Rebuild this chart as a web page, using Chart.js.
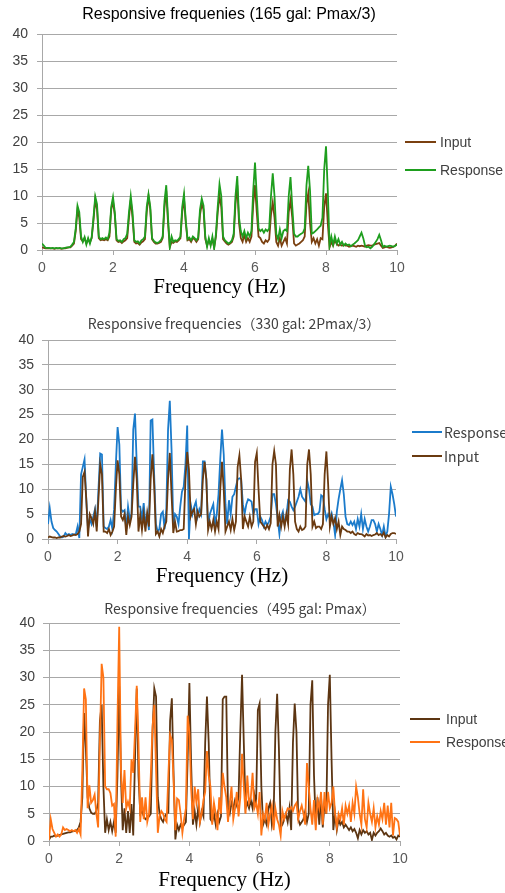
<!DOCTYPE html>
<html>
<head>
<meta charset="utf-8">
<script src="https://cdn.jsdelivr.net/npm/chart.js@4.4.1/dist/chart.umd.min.js"></script>
<style>
  body { margin: 0; background: #fff; }
  canvas { position: absolute; left: 0; }
</style>
</head>
<body>
<canvas id="c1" width="505" height="300" style="top:0px"></canvas>
<canvas id="c2" width="505" height="292" style="top:300px"></canvas>
<canvas id="c3" width="505" height="301" style="top:592px"></canvas>
<script>
// frequency grid (Hz), 0.05 Hz steps
const freqs = [
  0, 0.05, 0.1, 0.15, 0.2, 0.25, 0.3, 0.35, 0.4, 0.45,
  0.5, 0.55, 0.6, 0.65, 0.7, 0.75, 0.8, 0.85, 0.9, 0.95,
  1, 1.05, 1.1, 1.15, 1.2, 1.25, 1.3, 1.35, 1.4, 1.45,
  1.5, 1.55, 1.6, 1.65, 1.7, 1.75, 1.8, 1.85, 1.9, 1.95,
  2, 2.05, 2.1, 2.15, 2.2, 2.25, 2.3, 2.35, 2.4, 2.45,
  2.5, 2.55, 2.6, 2.65, 2.7, 2.75, 2.8, 2.85, 2.9, 2.95,
  3, 3.05, 3.1, 3.15, 3.2, 3.25, 3.3, 3.35, 3.4, 3.45,
  3.5, 3.55, 3.6, 3.65, 3.7, 3.75, 3.8, 3.85, 3.9, 3.95,
  4, 4.05, 4.1, 4.15, 4.2, 4.25, 4.3, 4.35, 4.4, 4.45,
  4.5, 4.55, 4.6, 4.65, 4.7, 4.75, 4.8, 4.85, 4.9, 4.95,
  5, 5.05, 5.1, 5.15, 5.2, 5.25, 5.3, 5.35, 5.4, 5.45,
  5.5, 5.55, 5.6, 5.65, 5.7, 5.75, 5.8, 5.85, 5.9, 5.95,
  6, 6.05, 6.1, 6.15, 6.2, 6.25, 6.3, 6.35, 6.4, 6.45,
  6.5, 6.55, 6.6, 6.65, 6.7, 6.75, 6.8, 6.85, 6.9, 6.95,
  7, 7.05, 7.1, 7.15, 7.2, 7.25, 7.3, 7.35, 7.4, 7.45,
  7.5, 7.55, 7.6, 7.65, 7.7, 7.75, 7.8, 7.85, 7.9, 7.95,
  8, 8.05, 8.1, 8.15, 8.2, 8.25, 8.3, 8.35, 8.4, 8.45,
  8.5, 8.55, 8.6, 8.65, 8.7, 8.75, 8.8, 8.85, 8.9, 8.95,
  9, 9.05, 9.1, 9.15, 9.2, 9.25, 9.3, 9.35, 9.4, 9.45,
  9.5, 9.55, 9.6, 9.65, 9.7, 9.75, 9.8, 9.85, 9.9, 9.95,
  10
];

// 165 gal
const input165 = [
  0.5, 0.4, 0.3, 0.3, 0.3, 0.3, 0.3, 0.2, 0.3, 0.3,
  0.3, 0.2, 0.3, 0.3, 0.4, 0.5, 0.5, 0.8, 1.2, 3.5,
  7.5, 6.0, 2.0, 1.6, 2.2, 1.2, 2.0, 1.4, 2.2, 5.5,
  9.3, 7.5, 2.2, 1.8, 1.9, 1.8, 2.0, 1.8, 2.5, 7.5,
  9.0, 6.5, 1.8, 1.5, 1.6, 1.3, 1.6, 1.8, 2.2, 6.0,
  9.3, 6.0, 1.5, 1.2, 1.3, 1.0, 1.4, 1.6, 2.0, 7.0,
  10.0, 7.5, 2.0, 1.5, 1.2, 1.2, 1.3, 1.5, 2.2, 8.0,
  11.0, 5.0, 0.5, 1.5, 1.3, 1.6, 1.5, 1.8, 2.2, 7.0,
  9.5, 5.0, 1.8, 2.0, 1.5, 2.2, 2.0, 1.5, 2.0, 6.5,
  8.5, 7.5, 2.0, 0.8, 1.8, 1.0, 2.0, 0.5, 2.5, 7.0,
  10.0, 8.0, 2.0, 1.6, 1.2, 1.0, 1.2, 1.5, 2.5, 8.5,
  12.0, 5.0, 2.2, 1.5, 2.8, 1.5, 2.2, 1.5, 2.5, 8.5,
  12.0, 7.0, 2.5, 2.2, 1.5, 1.2, 1.8, 1.5, 2.0, 6.5,
  8.8, 6.0, 1.5, 0.8, 2.2, 0.8, 1.5, 2.2, 1.2, 7.0,
  9.2, 6.0, 1.2, 0.8, 1.0, 1.2, 1.5, 1.8, 2.5, 8.5,
  10.5, 5.0, 1.5, 2.2, 1.2, 2.0, 0.8, 2.2, 2.0, 8.0,
  10.5, 5.0, 0.5, 1.5, 0.8, 1.8, 1.2, 0.8, 1.0, 0.8,
  1.0, 0.8, 0.8, 0.6, 0.7, 0.8, 0.7, 0.6, 0.8, 0.7,
  0.8, 0.7, 0.6, 0.8, 0.9, 0.8, 0.8, 1.0, 1.1, 1.2,
  1.3, 0.8, 0.4, 0.5, 0.6, 0.5, 0.4, 0.5, 0.6, 0.8,
  1.2
];
const response165 = [
  1.2, 0.8, 0.4, 0.4, 0.4, 0.3, 0.4, 0.3, 0.4, 0.3,
  0.4, 0.3, 0.3, 0.4, 0.5, 0.5, 0.6, 1.0, 1.5, 4.0,
  8.2, 7.0, 2.5, 1.5, 2.4, 1.0, 2.2, 1.2, 2.4, 6.0,
  9.9, 8.5, 2.5, 2.0, 2.2, 2.0, 2.3, 2.0, 3.2, 8.0,
  9.8, 7.0, 2.0, 1.7, 1.8, 1.5, 2.0, 2.2, 3.0, 7.0,
  10.0, 7.0, 1.8, 1.5, 1.6, 1.2, 1.8, 2.0, 2.5, 8.0,
  10.3, 8.0, 2.2, 1.7, 1.4, 1.3, 1.5, 1.8, 2.5, 9.0,
  12.0, 6.0, 0.5, 2.5, 1.5, 1.8, 1.7, 2.0, 2.5, 8.0,
  10.4, 5.5, 2.0, 2.3, 1.8, 2.5, 2.2, 1.8, 2.3, 7.5,
  9.5, 8.2, 2.5, 0.6, 2.2, 0.8, 2.5, 0.3, 3.0, 8.0,
  12.2, 10.0, 2.5, 1.8, 1.5, 1.2, 1.4, 1.8, 3.0, 10.0,
  13.7, 6.0, 3.5, 2.5, 3.5, 2.2, 3.2, 2.5, 3.5, 11.0,
  16.2, 10.0, 4.0, 3.5, 3.8, 3.2, 3.8, 3.5, 4.0, 10.0,
  14.2, 10.0, 3.0, 2.0, 3.8, 2.2, 3.5, 3.8, 3.5, 10.0,
  13.5, 8.0, 3.0, 2.5, 2.5, 2.8, 3.0, 3.2, 4.0, 12.0,
  15.6, 11.0, 3.0, 3.2, 3.5, 3.8, 4.2, 4.5, 6.0, 15.0,
  19.2, 11.0, 0.8, 2.5, 1.0, 2.5, 1.2, 2.0, 1.0, 1.5,
  0.8, 1.2, 0.9, 1.0, 0.7, 1.0, 1.2, 1.5, 1.8, 2.5,
  3.2, 2.2, 0.8, 0.5, 0.6, 0.3, 0.6, 1.0, 1.5, 2.0,
  2.8, 1.8, 0.6, 0.8, 0.6, 0.7, 0.8, 0.7, 0.6, 0.8,
  1.0
];

// 330 gal
const response330 = [
  3.0, 6.2, 3.5, 2.2, 1.8, 1.5, 1.0, 0.5, 0.3, 0.5,
  1.2, 0.8, 1.0, 0.8, 1.0, 0.9, 1.0, 2.5, 0.2, 13.0,
  14.5, 16.0, 8.0, 2.0, 4.0, 3.0, 4.5, 6.0, 2.5, 10.0,
  17.2, 17.0, 2.5, 2.2, 2.0, 2.5, 3.8, 2.0, 6.0, 15.0,
  22.5, 19.0, 6.0, 5.5, 5.8, 2.0, 6.5, 4.0, 5.0, 22.0,
  25.2, 15.0, 6.5, 6.5, 4.0, 7.2, 3.0, 5.0, 1.8, 23.8,
  24.0, 13.0, 3.0, 1.5, 2.0, 5.0, 5.5, 2.0, 6.0, 22.0,
  27.8, 18.0, 3.0, 5.0, 4.5, 3.0, 6.5, 9.5, 10.5, 15.0,
  22.8, 0.0, 7.0, 5.0, 6.5, 7.5, 4.5, 6.0, 5.0, 15.6,
  15.6, 12.0, 2.5, 5.0, 6.0, 7.0, 3.0, 5.0, 9.0, 16.0,
  22.0, 17.0, 7.0, 3.0, 7.8, 5.0, 8.5, 9.0, 10.5, 12.0,
  12.2, 12.0, 7.0, 5.0, 7.0, 8.0, 7.8, 7.5, 5.0, 6.0,
  6.0, 3.0, 4.5, 3.8, 2.5, 3.5, 2.8, 3.5, 4.5, 9.0,
  9.0, 7.0, 4.0, 1.0, 4.5, 5.5, 3.0, 4.5, 7.8, 7.5,
  6.5, 5.8, 6.5, 7.5, 8.5, 10.0, 8.5, 8.0, 7.5, 11.7,
  10.0, 7.0, 6.5, 4.8, 5.0, 5.0, 5.5, 8.8, 8.5, 6.0,
  4.0, 5.0, 4.2, 5.2, 3.5, 0.8, 5.5, 8.0, 10.0, 11.8,
  9.0, 4.5, 3.0, 2.8, 3.5, 2.8, 3.5, 2.0, 4.0, 2.5,
  5.0, 2.0, 4.0, 2.5, 1.5, 2.5, 3.8, 3.8, 3.0, 1.5,
  3.0, 2.0, 0.8, 2.5, 0.5, 1.5, 5.0, 10.5, 9.0, 7.0,
  4.5
];
const input330 = [
  0.3, 0.5, 0.4, 0.3, 0.3, 0.2, 0.3, 0.3, 0.5, 0.6,
  0.5, 0.6, 0.8, 0.6, 0.7, 0.9, 0.8, 1.0, 1.5, 3.0,
  12.5, 13.5, 8.0, 0.5, 5.0, 4.2, 3.0, 5.5, 1.5, 8.0,
  15.0, 13.0, 1.5, 1.5, 1.2, 2.0, 0.8, 1.5, 2.5, 10.0,
  15.8, 13.0, 4.5, 3.8, 5.0, 0.8, 4.5, 2.8, 4.5, 11.0,
  16.5, 12.0, 1.5, 4.8, 1.8, 5.0, 1.5, 5.2, 2.5, 12.0,
  17.0, 11.0, 1.0, 1.5, 0.5, 2.0, 1.2, 2.5, 3.5, 12.0,
  17.3, 9.0, 1.2, 3.5, 1.5, 1.6, 1.8, 1.8, 2.0, 12.0,
  17.5, 14.0, 4.5, 5.5, 6.0, 3.0, 5.5, 4.5, 5.0, 12.0,
  15.5, 12.0, 1.8, 3.5, 2.0, 3.8, 1.5, 3.5, 2.0, 10.0,
  15.5, 10.0, 1.5, 2.5, 3.5, 1.8, 4.0, 1.8, 3.5, 14.5,
  16.8, 12.0, 2.0, 4.5, 3.5, 2.5, 4.5, 2.5, 3.5, 15.5,
  17.3, 10.0, 3.5, 3.0, 2.5, 2.0, 2.8, 2.0, 3.2, 15.0,
  17.7, 15.0, 2.5, 4.8, 2.5, 4.5, 2.5, 5.0, 3.0, 14.0,
  18.0, 13.0, 3.5, 2.0, 1.5, 2.5, 1.8, 2.0, 2.5, 15.0,
  18.0, 13.0, 2.5, 3.5, 2.2, 2.5, 2.5, 2.0, 3.0, 13.0,
  17.6, 11.0, 2.5, 4.5, 3.0, 4.2, 2.0, 3.5, 0.8, 2.5,
  2.0, 1.8, 1.5, 1.5, 1.2, 1.5, 1.0, 0.8, 1.2, 1.0,
  1.0, 0.8, 0.5, 1.0, 0.7, 0.8, 0.6, 0.8, 0.9, 1.2,
  0.8, 1.0, 0.6, 1.3, 0.3, 0.8, 0.5, 1.0, 1.2, 1.2,
  1.0
];

// 495 gal
const input495 = [
  0.2, 0.8, 0.8, 1.0, 0.9, 1.0, 1.1, 1.2, 1.3, 1.4,
  1.5, 1.6, 1.6, 1.7, 1.8, 1.8, 2.0, 2.5, 3.5, 8.0,
  23.5, 17.0, 8.0, 6.0, 5.2, 5.0, 5.0, 5.5, 7.0, 22.0,
  25.0, 10.0, 1.5, 4.0, 2.0, 3.5, 1.8, 3.5, 1.5, 12.0,
  28.5, 12.0, 2.0, 6.0, 1.5, 5.5, 1.5, 6.8, 1.0, 15.0,
  28.0, 12.0, 5.0, 5.5, 4.5, 4.0, 4.2, 4.5, 5.0, 20.0,
  28.0, 26.5, 8.0, 5.0, 4.0, 3.5, 4.5, 5.0, 5.2, 22.0,
  26.2, 12.0, 0.3, 3.0, 2.0, 3.0, 2.5, 3.0, 3.5, 15.0,
  29.0, 14.0, 3.0, 5.5, 3.0, 6.0, 3.5, 5.5, 4.5, 18.0,
  26.5, 18.0, 4.0, 3.5, 5.0, 3.0, 5.0, 3.5, 4.5, 26.0,
  26.5, 26.5, 6.0, 5.0, 7.0, 6.0, 7.5, 6.5, 8.0, 20.0,
  30.5, 18.0, 6.0, 7.0, 6.0, 7.5, 6.0, 8.5, 6.5, 24.0,
  25.2, 10.0, 3.0, 4.0, 3.0, 6.0, 7.0, 3.0, 5.0, 20.0,
  27.0, 17.0, 2.5, 3.0, 4.0, 5.0, 3.5, 6.0, 2.0, 18.0,
  25.2, 20.0, 4.0, 3.0, 3.5, 4.0, 5.5, 3.5, 5.0, 25.0,
  29.5, 12.0, 3.0, 8.0, 3.0, 8.0, 2.5, 7.0, 5.0, 25.0,
  30.5, 15.0, 2.0, 5.0, 2.0, 4.0, 3.0, 3.5, 2.5, 3.0,
  2.5, 2.0, 2.5, 1.8, 2.2, 1.5, 0.5, 2.0, 1.2, 2.0,
  1.5, 1.8, 1.2, 1.5, 0.2, 1.5, 1.0, 1.5, 1.8, 2.3,
  1.8, 1.2, 1.5, 1.0, 0.8, 1.0, 0.6, 0.8, 0.3, 1.0,
  0.8
];
const response495 = [
  0.2, 4.0, 2.2, 1.5, 0.8, 1.2, 0.8, 1.2, 2.5, 2.0,
  2.2, 2.0, 1.8, 2.0, 1.8, 2.0, 1.5, 2.2, 1.2, 13.0,
  28.0, 26.0, 6.0, 10.2, 7.0, 7.5, 8.5, 5.0, 2.5, 18.0,
  32.5, 30.0, 10.0, 9.5, 9.5, 8.8, 6.5, 6.8, 0.8, 22.0,
  39.3, 13.0, 7.0, 13.0, 6.0, 7.2, 6.0, 15.0, 12.5, 20.0,
  28.5, 18.0, 3.5, 8.0, 4.0, 8.0, 3.5, 5.0, 12.0, 21.0,
  25.0, 13.0, 1.5, 4.5, 5.5, 5.0, 4.0, 3.5, 12.0, 19.5,
  18.5, 11.0, 2.0, 7.8, 7.5, 5.0, 1.5, 4.0, 6.0, 23.0,
  20.0, 9.5, 4.0, 10.0, 7.0, 9.5, 3.5, 5.0, 7.5, 9.0,
  16.5, 12.0, 10.0, 3.0, 7.0, 5.0, 2.0, 8.0, 5.0, 12.5,
  10.0, 8.0, 3.5, 7.0, 10.0, 4.0, 6.0, 9.0, 4.5, 8.0,
  16.0, 10.0, 5.0, 12.0, 7.0, 8.0, 12.5, 6.0, 7.0, 5.0,
  9.0, 1.0, 5.0, 4.0, 7.0, 3.0, 5.0, 6.5, 2.0, 6.0,
  4.0, 3.0, 1.0, 5.5, 4.0, 5.0, 6.0, 5.8, 6.2, 5.5,
  6.5, 7.0, 4.0, 5.5, 6.5, 5.0, 3.0, 14.3, 10.0, 6.0,
  3.0, 7.5, 2.0, 7.5, 6.0, 9.0, 3.0, 9.0, 5.0, 9.0,
  6.0, 7.0, 10.0, 5.0, 2.5, 5.0, 4.0, 6.0, 3.0, 6.5,
  5.0, 6.5, 3.5, 7.0, 5.0, 10.0, 8.0, 5.0, 3.0, 9.5,
  4.0, 2.5, 7.0, 5.0, 3.5, 6.0, 2.5, 4.5, 3.0, 5.5,
  4.0, 7.0, 3.0, 6.5, 2.5, 7.0, 1.0, 4.2, 4.0, 3.5,
  1.0
];

const yTicks = [0, 5, 10, 15, 20, 25, 30, 35, 40];
const xTicks = [0, 2, 4, 6, 8, 10];

const gridGray = '#a8a8a8';

// title + legend drawn by hand, like the Excel layout
const decor = {
  id: 'decor',
  afterDraw(chart, args, o) {
    const ctx = chart.ctx;
    ctx.save();
    ctx.textBaseline = 'middle';
    ctx.textAlign = 'center';
    ctx.font = o.titleFont;
    ctx.fillStyle = o.titleColor;
    ctx.fillText(o.title, o.titleX, o.titleY);

    ctx.textAlign = 'left';
    ctx.font = o.legendFont;
    chart.data.datasets.forEach((ds, i) => {
      const y = o.legendY[i];
      ctx.strokeStyle = ds.borderColor;
      ctx.lineWidth = 2;
      ctx.beginPath();
      ctx.moveTo(o.lineX[0], y);
      ctx.lineTo(o.lineX[1], y);
      ctx.stroke();
      ctx.fillStyle = '#404040';
      ctx.fillText(ds.label, o.lineX[1] + o.textGap, y + 1);
    });
    ctx.restore();
  }
};

function makeChart(id, g, series, deco) {
  const canvas = document.getElementById(id);
  const H = canvas.height;
  new Chart(canvas, {
    type: 'line',
    data: {
      datasets: series.map((s, i) => ({
        label: s.label,
        data: freqs.map((f, k) => ({ x: f, y: s.values[k] })),
        borderColor: s.color,
        borderWidth: 1.8,
        pointRadius: 0,
        tension: 0,
        order: series.length - i
      }))
    },
    options: {
      responsive: false,
      animation: false,
      devicePixelRatio: 1,
      layout: { padding: { left: 0, top: g.top, right: 505 - g.right, bottom: 0 } },
      plugins: {
        legend: { display: false },
        tooltip: { enabled: false },
        decor: deco
      },
      scales: {
        x: {
          type: 'linear',
          min: 0,
          max: 10,
          afterBuildTicks: s => { s.ticks = xTicks.map(v => ({ value: v })); },
          ticks: {
            padding: 5,
            color: '#595959',
            font: { family: 'Liberation Sans', size: 14 }
          },
          grid: { drawOnChartArea: false, tickLength: 5, color: gridGray },
          border: { color: gridGray },
          title: {
            display: true,
            text: 'Frequency (Hz)',
            color: '#000',
            font: { family: 'Liberation Serif', size: 21 },
            padding: { top: 0, bottom: g.titlePad }
          },
          afterFit: s => { s.height = H - g.bottom; }
        },
        y: {
          min: 0,
          max: 40,
          afterBuildTicks: s => { s.ticks = yTicks.map(v => ({ value: v })); },
          ticks: {
            padding: g.yPad,
            color: '#404040',
            font: { family: 'Liberation Sans', size: 14 }
          },
          grid: { color: gridGray, tickLength: g.tick },
          border: { color: gridGray },
          afterFit: s => { s.width = g.left; }
        }
      }
    },
    plugins: [decor]
  });
}

makeChart('c1',
  { left: 42, right: 397, top: 34, bottom: 250, tick: 5, yPad: 9, titlePad: 0 },
  [
    { label: 'Input', values: input165, color: '#7a4010' },
    { label: 'Response', values: response165, color: '#1e9e1e' }
  ],
  {
    title: 'Responsive frequenies (165 gal: Pmax/3)',
    titleFont: '16px "Liberation Sans"', titleColor: '#000', titleX: 229, titleY: 15,
    legendFont: '14px "Liberation Sans"', legendY: [142, 170], lineX: [405, 436], textGap: 4
  });

makeChart('c2',
  { left: 48, right: 396, top: 40, bottom: 239, tick: 6, yPad: 8, titlePad: 3 },
  [
    { label: 'Response', values: response330, color: '#1b7bcb' },
    { label: 'Input', values: input330, color: '#6a3a10' }
  ],
  {
    title: 'Responsive frequencies（330 gal: 2Pmax/3）',
    titleFont: '14px "Noto Sans CJK JP"', titleColor: '#404040', titleX: 234, titleY: 24,
    legendFont: '14px "Noto Sans CJK JP"', legendY: [132, 156], lineX: [412, 442], textGap: 2
  });

makeChart('c3',
  { left: 49, right: 400, top: 31, bottom: 249, tick: 6, yPad: 8, titlePad: 0 },
  [
    { label: 'Input', values: input495, color: '#5c3512' },
    { label: 'Response', values: response495, color: '#ff7314' }
  ],
  {
    title: 'Responsive frequencies（495 gal: Pmax）',
    titleFont: '14px "Noto Sans CJK JP"', titleColor: '#404040', titleX: 240, titleY: 17,
    legendFont: '14px "Liberation Sans"', legendY: [127, 150], lineX: [410, 440], textGap: 6
  });
</script>
</body>
</html>
